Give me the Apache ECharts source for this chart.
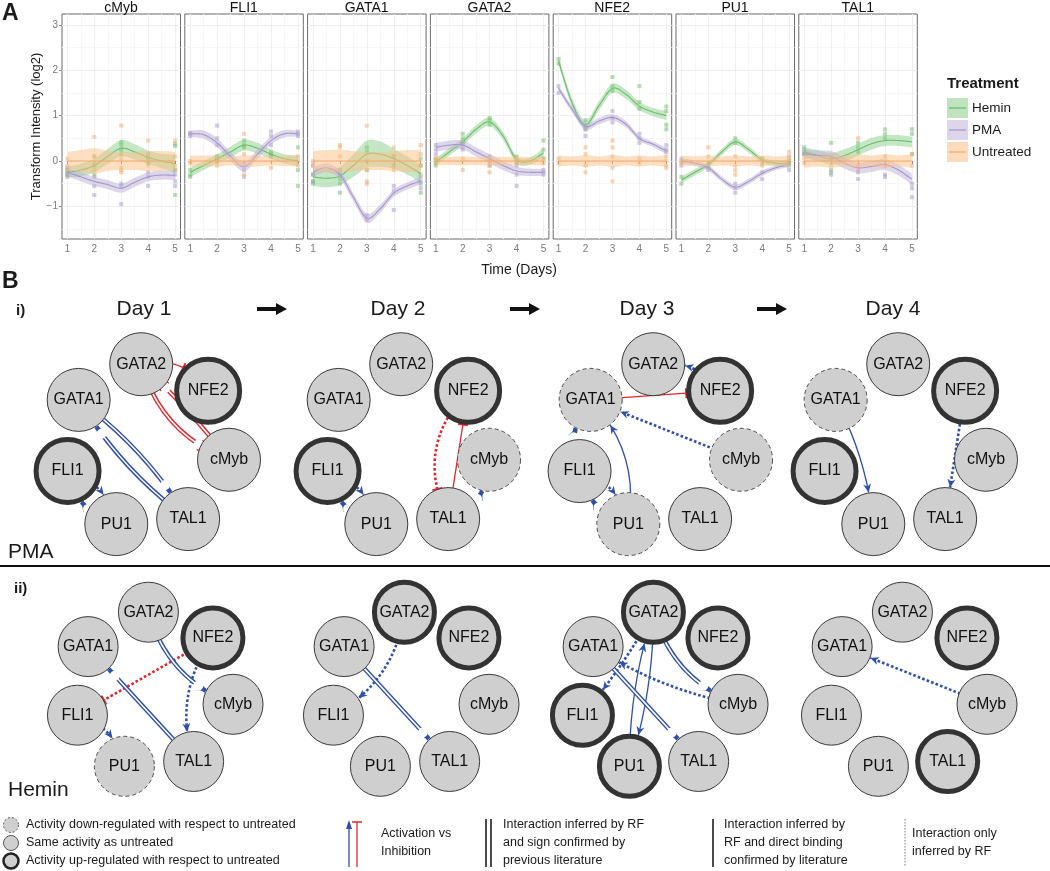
<!DOCTYPE html>
<html><head><meta charset="utf-8">
<script src="https://cdn.jsdelivr.net/npm/echarts@6/dist/echarts.min.js"></script>
<style>html,body{margin:0;padding:0;background:#fff}#c{width:1050px;height:871px}</style>
</head><body><div id="c"></div>
<script>
// ---------------- Panel A data ----------------
const genes = ['cMyb', 'FLI1', 'GATA1', 'GATA2', 'NFE2', 'PU1', 'TAL1'];
const treatments = ['Hemin', 'PMA', 'Untreated'];
const days = [1, 2, 3, 4, 5];
const fitX = [1, 1.5, 2, 2.5, 3, 3.5, 4, 4.5, 5];
const yTicks = [-1, 0, 1, 2, 3];

// smoothed fit per gene (rows follow genes, columns follow fitX)
const heminFit = [
  [-0.25, -0.2, -0.1, 0.1, 0.28, 0.2, 0.08, 0.0, -0.06],
  [-0.25, -0.1, 0.05, 0.2, 0.35, 0.28, 0.15, 0.05, 0.0],
  [-0.35, -0.38, -0.33, -0.1, 0.15, 0.15, 0.05, -0.1, -0.28],
  [-0.02, 0.2, 0.42, 0.7, 0.86, 0.55, 0.03, 0.0, 0.18],
  [2.2, 1.28, 0.8, 1.22, 1.6, 1.47, 1.21, 1.08, 1.0],
  [-0.42, -0.25, -0.08, 0.2, 0.42, 0.25, 0.02, -0.05, -0.05],
  [0.2, 0.12, 0.05, 0.12, 0.25, 0.38, 0.45, 0.45, 0.42]
];
const pmaFit = [
  [-0.25, -0.35, -0.45, -0.52, -0.6, -0.47, -0.35, -0.31, -0.32],
  [0.6, 0.58, 0.4, 0.1, -0.13, 0.15, 0.45, 0.6, 0.6],
  [-0.24, -0.15, -0.3, -0.8, -1.26, -1.05, -0.71, -0.55, -0.44],
  [0.3, 0.35, 0.35, 0.2, 0.05, -0.1, -0.22, -0.25, -0.25],
  [1.6, 1.14, 0.76, 0.88, 0.96, 0.81, 0.5, 0.37, 0.22],
  [0.0, -0.05, -0.15, -0.4, -0.58, -0.45, -0.27, -0.15, -0.08],
  [0.15, 0.12, 0.1, -0.05, -0.15, -0.12, -0.08, -0.2, -0.4]
];
const untreatedFit = [
  [0, 0, 0, 0, 0, 0, 0, 0, 0],
  [0, 0, 0, 0, 0, 0, 0, 0, 0],
  [0, 0, 0, 0, 0, 0, 0, 0, 0],
  [0, 0, 0, 0, 0, 0, 0, 0, 0],
  [0, 0, 0, 0, 0, 0, 0, 0, 0],
  [0, 0, 0, 0, 0, 0, 0, 0, 0],
  [0, 0, 0, 0, 0, 0, 0, 0, 0]
];
// half width of the confidence band
const heminBand = [
  [0.12, 0.14, 0.15, 0.17, 0.18, 0.17, 0.15, 0.16, 0.2],
  [0.1, 0.1, 0.1, 0.12, 0.12, 0.12, 0.1, 0.1, 0.12],
  [0.2, 0.2, 0.2, 0.25, 0.3, 0.28, 0.22, 0.2, 0.2],
  [0.08, 0.08, 0.08, 0.09, 0.09, 0.09, 0.08, 0.08, 0.1],
  [0.08, 0.1, 0.1, 0.1, 0.1, 0.1, 0.09, 0.09, 0.1],
  [0.07, 0.07, 0.06, 0.07, 0.07, 0.07, 0.06, 0.06, 0.07],
  [0.1, 0.12, 0.13, 0.14, 0.13, 0.13, 0.12, 0.12, 0.12]
];
const pmaBand = [
  [0.08, 0.1, 0.1, 0.1, 0.1, 0.1, 0.1, 0.1, 0.1],
  [0.07, 0.09, 0.1, 0.1, 0.1, 0.1, 0.09, 0.08, 0.07],
  [0.1, 0.1, 0.09, 0.09, 0.1, 0.09, 0.08, 0.08, 0.08],
  [0.1, 0.1, 0.1, 0.1, 0.1, 0.1, 0.09, 0.08, 0.08],
  [0.06, 0.07, 0.07, 0.07, 0.07, 0.07, 0.06, 0.06, 0.07],
  [0.06, 0.06, 0.06, 0.06, 0.06, 0.06, 0.06, 0.05, 0.06],
  [0.1, 0.11, 0.12, 0.12, 0.12, 0.12, 0.12, 0.12, 0.12]
];
const untreatedBand = [
  [0.2, 0.24, 0.28, 0.22, 0.2, 0.2, 0.22, 0.22, 0.2],
  [0.12, 0.12, 0.12, 0.1, 0.12, 0.12, 0.1, 0.11, 0.12],
  [0.22, 0.24, 0.25, 0.22, 0.2, 0.2, 0.22, 0.24, 0.24],
  [0.1, 0.09, 0.1, 0.09, 0.1, 0.09, 0.1, 0.09, 0.1],
  [0.12, 0.1, 0.13, 0.1, 0.13, 0.1, 0.12, 0.1, 0.13],
  [0.12, 0.1, 0.12, 0.1, 0.12, 0.1, 0.12, 0.1, 0.12],
  [0.15, 0.12, 0.15, 0.12, 0.15, 0.12, 0.15, 0.12, 0.15]
];
// replicate measurements: gene -> day -> values
const heminPts = [
  [[-0.3, -0.2, -0.25], [0.1, -0.1, -0.3], [0.42, 0.35, 0.25, 0.15], [0.15, 0.05, -0.05], [0.38, 0.33, -0.2, -0.75]],
  [[-0.2, -0.3, -0.35], [0.1, 0.05, 0.0], [0.45, 0.35, 0.3], [0.2, 0.1, 0.15], [0.3, -0.2, -0.55]],
  [[-0.3, -0.45, -0.5], [-0.4, -0.5, -0.7], [0.3, 0.2, 0.0, -0.2], [0.1, -0.1], [0.05, -0.1, -0.5, -0.7]],
  [[0.05, -0.05, -0.1], [0.6, 0.5, 0.4], [0.95, 0.9, 0.8], [0.1, 0.0, -0.05], [0.45, 0.25, 0.05]],
  [[2.25, 2.15], [0.9, 0.75, 0.7], [1.85, 1.65, 1.55], [1.65, 1.3, 1.15], [1.2, 1.1, 0.8, 0.7]],
  [[-0.35, -0.5], [-0.05, -0.1], [0.5, 0.4], [0.05, -0.05], [0.0, -0.1]],
  [[0.3, 0.2, 0.15], [0.4, -0.2, -0.3], [0.4, 0.3, 0.2], [0.7, 0.6, 0.5], [0.7, 0.6, 0.15]]
];
const pmaPts = [
  [[-0.15, -0.3, -0.35], [-0.35, -0.55, -0.75], [-0.5, -0.55, -0.95], [-0.25, -0.35, -0.55], [-0.3, -0.45, -0.55]],
  [[0.55, 0.6, 0.62], [0.78, 0.5, 0.35], [-0.05, -0.2, -0.35], [0.65, 0.55, 0.35], [0.65, 0.6, 0.55]],
  [[-0.1, -0.3, -0.45], [-0.2, -0.3], [-1.2, -1.3], [-0.55, -0.65, -1.08], [-0.35, -0.45, -0.6]],
  [[0.35, 0.25, 0.15], [0.4, 0.3, 0.25], [0.1, 0.0, -0.1], [-0.1, -0.3, -0.55], [-0.2, -0.25, -0.3]],
  [[1.65, 1.5], [0.8, 0.7, 0.55], [1.1, 0.95, 0.85], [0.6, 0.5, 0.4], [0.35, 0.25, 0.2]],
  [[0.05, -0.1], [-0.15, -0.2], [-0.5, -0.6, -0.7], [-0.25, -0.4], [0.1, -0.05, -0.2]],
  [[0.25, 0.15], [0.05, -0.25], [-0.25, -0.4], [-0.3, -0.35], [-0.5, -0.6, -0.8]]
];
const untreatedPts = [
  [[0.05, -0.1, -0.2], [0.53, 0.1, -0.1, -0.2], [0.78, 0.05, -0.15, -0.2, -0.25], [0.45, 0.05, -0.1], [0.45, 0.1, -0.1, -0.2]],
  [[0.0, -0.05], [0.0, -0.1], [0.6, 0.15, -0.3], [0.15, -0.15], [0.1, 0.0, -0.1]],
  [[0.0, -0.1], [0.35, 0.3, 0.1, -0.2], [0.78, -0.2, -0.45, -0.5], [0.3, 0.1, -0.1, -0.2], [0.35, 0.15, -0.1, -0.3]],
  [[0.0, 0.05], [0.05, -0.2], [0.05, -0.1, -0.25], [0.05, -0.02], [0.05, -0.05]],
  [[0.05, -0.05], [0.3, 0.15, -0.1, -0.25], [0.45, 0.3, 0.1, -0.15, -0.45], [0.05, -0.05], [0.1, 0.0, -0.1, -0.15]],
  [[0.0, -0.05], [0.3, 0.1], [0.1, -0.1, -0.2, -0.3], [0.05, -0.1], [0.2, 0.05, -0.05]],
  [[0.05, -0.05], [0.05, -0.1], [0.5, -0.1, -0.2], [0.1, -0.1], [0.15, -0.1]]
];

// ---------------- Panel B data ----------------
const netGenes = ['GATA2', 'NFE2', 'cMyb', 'TAL1', 'PU1', 'FLI1', 'GATA1'];
const netDays = ['Day 1', 'Day 2', 'Day 3', 'Day 4'];
// activity vs untreated: 1 up, 0 same, -1 down (order of netGenes)
const pmaActivity = [
  [0, 1, 0, 0, 0, 1, 0],
  [0, 1, -1, 0, 0, 1, 0],
  [0, 1, -1, 0, -1, 0, -1],
  [0, 1, 0, 0, 0, 1, -1]
];
const heminActivity = [
  [0, 1, 0, 0, -1, 0, 0],
  [1, 1, 0, 0, 0, 0, 0],
  [1, 1, 0, 0, 1, 1, 0],
  [0, 1, 0, 1, 0, 0, 0]
];
// [source, target, effect, evidence, curveness]
// evidence: lit = RF + sign from literature, bind = RF + direct binding, rf = RF only
const pmaEdges = [
  [['GATA2', 'NFE2', 'inh', 'bind', 0.35], ['GATA2', 'cMyb', 'inh', 'lit', -0.25], ['cMyb', 'GATA2', 'inh', 'lit', -0.04],
   ['GATA1', 'TAL1', 'act', 'lit', 0.1], ['TAL1', 'GATA1', 'act', 'lit', 0.1], ['FLI1', 'PU1', 'act', 'rf', 0.3], ['PU1', 'FLI1', 'act', 'lit', 0.3]],
  [['FLI1', 'PU1', 'act', 'rf', 0.3], ['PU1', 'FLI1', 'act', 'lit', 0.3], ['NFE2', 'TAL1', 'inh', 'rf', -0.35],
   ['TAL1', 'NFE2', 'inh', 'bind', 0], ['TAL1', 'cMyb', 'act', 'lit', -0.35]],
  [['NFE2', 'GATA2', 'act', 'rf', -0.3], ['GATA1', 'NFE2', 'inh', 'bind', 0], ['cMyb', 'GATA1', 'act', 'rf', 0],
   ['PU1', 'GATA1', 'act', 'bind', -0.25], ['FLI1', 'GATA1', 'act', 'lit', 0.3], ['FLI1', 'PU1', 'act', 'rf', 0.3], ['PU1', 'FLI1', 'act', 'lit', 0.3]],
  [['GATA1', 'PU1', 'act', 'bind', 0.1], ['NFE2', 'TAL1', 'act', 'rf', 0]]
];
const heminEdges = [
  [['NFE2', 'FLI1', 'inh', 'rf', 0], ['TAL1', 'GATA1', 'act', 'lit', 0], ['GATA2', 'cMyb', 'act', 'lit', -0.25],
   ['NFE2', 'TAL1', 'act', 'rf', -0.25], ['FLI1', 'PU1', 'act', 'rf', 0.3]],
  [['GATA2', 'FLI1', 'act', 'rf', 0.25], ['GATA1', 'TAL1', 'act', 'lit', 0]],
  [['GATA2', 'FLI1', 'act', 'rf', 0.05], ['cMyb', 'GATA1', 'act', 'rf', 0.1], ['GATA2', 'cMyb', 'act', 'lit', -0.25],
   ['GATA1', 'TAL1', 'act', 'lit', 0], ['PU1', 'GATA2', 'act', 'bind', 0.08], ['GATA2', 'PU1', 'act', 'bind', 0.08]],
  [['cMyb', 'GATA1', 'act', 'rf', 0]]
];

// ---------------- styling / layout ----------------
const FONT = '"Liberation Sans", Arial, Helvetica, sans-serif';
const lineColors = ['#6bbd6b', '#a596ce', '#f4aa6c'];
const fillColors = ['rgba(127,201,127,0.45)', 'rgba(190,174,212,0.5)', 'rgba(253,192,134,0.5)'];
const keyColors = ['#bfe3bf', '#ddd5ea', '#fddcbd'];
const BLUE = '#2f4fae', RED = '#e3262b', NODE_FILL = '#cfcfcf';
const ARROW = 'path://M9.9,0 L10.1,0 L10.1,10 L9.9,10 Z M10,10 L17,20 L10,17 L3,20 Z';
const TBAR = 'path://M0,9 L20,9 L20,11 L0,11 Z M9.9,0 L10.1,0 L10.1,20 L9.9,20 Z';

const fits = [heminFit, pmaFit, untreatedFit];
const bands = [heminBand, pmaBand, untreatedBand];
const pts = [heminPts, pmaPts, untreatedPts];

const grid = [], xAxis = [], yAxis = [], series = [], graphic = [];
const polar = [], angleAxis = [], radiusAxis = [];

// cubic (Catmull-Rom style) sampling of pixel points, for drawing only
function spline(P) {
  const out = [], n = P.length, t = 1 / 6, steps = 10;
  for (let i = 0; i < n - 1; i++) {
    const p0 = P[Math.max(i - 1, 0)], p1 = P[i], p2 = P[i + 1], p3 = P[Math.min(i + 2, n - 1)];
    const c1 = [p1[0] + (p2[0] - p0[0]) * t, p1[1] + (p2[1] - p0[1]) * t];
    const c2 = [p2[0] - (p3[0] - p1[0]) * t, p2[1] - (p3[1] - p1[1]) * t];
    for (let s = 0; s < steps; s++) {
      const u = s / steps, v = 1 - u;
      out.push([
        v * v * v * p1[0] + 3 * v * v * u * c1[0] + 3 * v * u * u * c2[0] + u * u * u * p2[0],
        v * v * v * p1[1] + 3 * v * v * u * c1[1] + 3 * v * u * u * c2[1] + u * u * u * p2[1]
      ]);
    }
  }
  out.push(P[n - 1]);
  return out;
}
function smoothRenderer(rows, lineColor, fillColor) {
  return function (params, api) {
    if (params.dataIndex !== 0) return null;
    const up = spline(rows.map(r => api.coord([r[0], r[2]])));
    const lo = spline(rows.map(r => api.coord([r[0], r[1]])));
    const mid = spline(rows.map(r => api.coord([r[0], r[3]])));
    return {type: 'group', children: [
      {type: 'polygon', shape: {points: up.concat(lo.reverse())}, style: {fill: fillColor, stroke: null}},
      {type: 'polyline', shape: {points: mid}, style: {fill: null, stroke: lineColor, lineWidth: 1.1}}
    ]};
  };
}

genes.forEach((g, gi) => {
  const left = 62 + gi * 122.8;
  grid.push({left: left, top: 14, width: 118.5, height: 225, show: true,
    borderColor: '#6b6b6b', borderWidth: 1, backgroundColor: '#fff'});
  xAxis.push({gridIndex: gi, type: 'value', min: 0.8, max: 5.2,
    axisLine: {show: false},
    axisTick: {show: true, length: 3, customValues: days, lineStyle: {color: '#888'}},
    axisLabel: {customValues: days, color: '#7a7a7a', fontSize: 10, margin: 5},
    splitLine: {show: true, lineStyle: {color: '#efefef'}},
    minorTick: {show: false, splitNumber: 2},
    minorSplitLine: {show: true, lineStyle: {color: '#f7f7f7'}}});
  yAxis.push({gridIndex: gi, type: 'value', min: -1.72, max: 3.24,
    axisLine: {show: false},
    axisTick: {show: gi === 0, length: 3, customValues: yTicks, lineStyle: {color: '#888'}},
    axisLabel: {show: gi === 0, customValues: yTicks, color: '#7a7a7a', fontSize: 10, margin: 4,
      formatter: v => (v < 0 ? '\u2212' + Math.abs(v) : String(v))},
    splitLine: {show: true, lineStyle: {color: '#efefef'}},
    minorTick: {show: false, splitNumber: 2},
    minorSplitLine: {show: true, lineStyle: {color: '#f7f7f7'}},
    name: gi === 0 ? 'Transform Intensity (log2)' : '', nameLocation: 'middle', nameGap: 18,
    nameTextStyle: {fontSize: 13, color: '#1a1a1a'}});
  graphic.push({type: 'text', x: left + 59, y: 8, silent: true,
    style: {text: g, font: '14px ' + FONT, fill: '#111', align: 'center', verticalAlign: 'middle'}});

  treatments.forEach((t, ti) => {
    const fit = fits[ti][gi], band = bands[ti][gi];
    const scatter = [];
    pts[ti][gi].forEach((vals, di) => vals.forEach(v => scatter.push([days[di], v])));
    series.push({type: 'scatter', name: t, xAxisIndex: gi, yAxisIndex: gi, data: scatter,
      symbol: 'rect', symbolSize: 4, itemStyle: {color: lineColors[ti], opacity: 0.5}, z: 1, silent: true});
    const rows = fitX.map((x, k) => [x, fit[k] - band[k], fit[k] + band[k], fit[k]]);
    series.push({type: 'custom', name: t, xAxisIndex: gi, yAxisIndex: gi, data: rows,
      encode: {x: 0, y: [1, 2, 3]}, renderItem: smoothRenderer(rows, lineColors[ti], fillColors[ti]),
      z: 2, silent: true});
  });
});

// ---------------- networks ----------------
function edgeLink(e) {
  const [s, t, eff, ev, cv] = e;
  const ls = {color: eff === 'act' ? BLUE : RED, curveness: cv, opacity: 1};
  let size;
  if (ev === 'lit') { ls.width = 4.4; size = eff === 'act' ? [10, 18] : [12, 20]; }
  else if (ev === 'bind') { ls.width = 1.3; size = eff === 'act' ? [8, 17] : [10, 20]; }
  else { ls.width = 2.6; ls.type = [2.6, 2.2]; size = eff === 'act' ? [8, 17] : [10, 20]; }
  return {source: s, target: t, lineStyle: ls,
    symbol: ['none', eff === 'act' ? ARROW : TBAR], symbolSize: [0, size]};
}
function overlayLink(e) {
  return {source: e[0], target: e[1], lineStyle: {color: '#ffffff', width: 1.6, curveness: e[4], opacity: 1},
    symbol: ['none', 'circle'], symbolSize: [0, 0]};
}
function addNetwork(pi, activity, edges, cx, cy, R, size) {
  polar.push({center: [cx, cy], radius: R});
  angleAxis.push({polarIndex: pi, type: 'category', data: netGenes, startAngle: 94, clockwise: true,
    boundaryGap: false, show: false});
  radiusAxis.push({polarIndex: pi, type: 'value', min: 0, max: 1, show: false});
  const outer = activity.map(a => size + (a === 1 ? 5 : 1));
  const hidden = extra => netGenes.map((g, i) => ({name: g, value: [1, i], symbolSize: outer[i] + extra}));
  const base = {type: 'graph', coordinateSystem: 'polar', polarIndex: pi, silent: true,
    emphasis: {disabled: true}, label: {show: false}, itemStyle: {opacity: 0}, lineStyle: {opacity: 1}};
  series.push(Object.assign({}, base, {z: 5, data: hidden(0), links: edges.map(edgeLink)}));
  const litAct = edges.filter(e => e[3] === 'lit' && e[2] === 'act');
  const litInh = edges.filter(e => e[3] === 'lit' && e[2] === 'inh');
  if (litAct.length) series.push(Object.assign({}, base, {z: 6, data: hidden(18), links: litAct.map(overlayLink)}));
  if (litInh.length) series.push(Object.assign({}, base, {z: 6, data: hidden(4), links: litInh.map(overlayLink)}));
  series.push({type: 'graph', coordinateSystem: 'polar', polarIndex: pi, silent: true, z: 7,
    emphasis: {disabled: true},
    label: {show: true, position: 'inside', fontSize: 16, color: '#111', fontFamily: FONT},
    data: netGenes.map((g, i) => {
      const a = activity[i];
      let st;
      if (a === 1) st = {color: NODE_FILL, borderColor: '#333', borderWidth: 5};
      else if (a === -1) st = {color: NODE_FILL, borderColor: '#4a4a4a', borderWidth: 1, borderType: [4, 3]};
      else st = {color: NODE_FILL, borderColor: '#3a3a3a', borderWidth: 1};
      return {name: g, value: [1, i], symbolSize: size, itemStyle: st};
    }),
    links: []});
}
const pmaCX = [147, 407, 659, 904], heminCX = [154, 410, 659, 908];
netDays.forEach((d, k) => addNetwork(k, pmaActivity[k], pmaEdges[k], pmaCX[k], 447, 83, 63));
netDays.forEach((d, k) => addNetwork(4 + k, heminActivity[k], heminEdges[k], heminCX[k], 692, 80, 60));

// ---------------- annotations ----------------
function txt(x, y, text, size, bold, align) {
  return {type: 'text', x: x, y: y, silent: true, z: 20,
    style: {text: text, font: (bold ? 'bold ' : '') + size + 'px ' + FONT, fill: '#1a1a1a',
      align: align || 'left', verticalAlign: 'middle'}};
}
graphic.push(txt(2, 14, 'A', 23, true));
graphic.push(txt(519, 270, 'Time (Days)', 14, false, 'center'));
// treatment legend
graphic.push(txt(947, 84, 'Treatment', 15, true));
treatments.forEach((t, ti) => {
  const yc = 108 + ti * 22;
  graphic.push({type: 'rect', silent: true, shape: {x: 947, y: yc - 10, width: 21, height: 20},
    style: {fill: keyColors[ti]}});
  graphic.push({type: 'line', silent: true, shape: {x1: 949, y1: yc, x2: 966, y2: yc},
    style: {stroke: lineColors[ti], lineWidth: 1.2}});
  graphic.push(txt(972, yc, t, 13.5));
});
// panel B texts
graphic.push(txt(2, 282, 'B', 23, true));
graphic.push(txt(16, 311, 'i)', 15, true));
graphic.push(txt(14, 589, 'ii)', 15, true));
const dayX = [144, 398, 647, 893];
netDays.forEach((d, k) => graphic.push(txt(dayX[k], 309, d, 21, false, 'center')));
[257, 510, 757].forEach(x0 => {
  graphic.push({type: 'polygon', silent: true,
    shape: {points: [[x0, 307], [x0 + 19, 307], [x0 + 19, 303], [x0 + 30, 309], [x0 + 19, 315], [x0 + 19, 311], [x0, 311]]},
    style: {fill: '#111'}});
});
graphic.push(txt(8, 552, 'PMA', 21));
graphic.push(txt(8, 790, 'Hemin', 21));
graphic.push({type: 'line', silent: true, shape: {x1: 0, y1: 566, x2: 1050, y2: 566}, style: {stroke: '#111', lineWidth: 2}});
// bottom legend
const legRows = [825, 843, 861];
graphic.push({type: 'circle', silent: true, shape: {cx: 11, cy: legRows[0], r: 7.5},
  style: {fill: NODE_FILL, stroke: '#555', lineWidth: 1, lineDash: [2, 2]}});
graphic.push({type: 'circle', silent: true, shape: {cx: 11, cy: legRows[1], r: 7.5},
  style: {fill: NODE_FILL, stroke: '#555', lineWidth: 1}});
graphic.push({type: 'circle', silent: true, shape: {cx: 11, cy: legRows[2], r: 7.5},
  style: {fill: NODE_FILL, stroke: '#222', lineWidth: 2.5}});
graphic.push(txt(26, legRows[0], 'Activity down-regulated with respect to untreated', 12.5));
graphic.push(txt(26, legRows[1], 'Same activity as untreated', 12.5));
graphic.push(txt(26, legRows[2], 'Activity up-regulated with respect to untreated', 12.5));
graphic.push({type: 'line', silent: true, shape: {x1: 349, y1: 867, x2: 349, y2: 826}, style: {stroke: BLUE, lineWidth: 1.3}});
graphic.push({type: 'polygon', silent: true, shape: {points: [[346, 829], [349, 820], [352, 829]]}, style: {fill: BLUE}});
graphic.push({type: 'line', silent: true, shape: {x1: 357, y1: 867, x2: 357, y2: 822}, style: {stroke: RED, lineWidth: 1.3}});
graphic.push({type: 'line', silent: true, shape: {x1: 352, y1: 822, x2: 362, y2: 822}, style: {stroke: RED, lineWidth: 1.5}});
graphic.push(txt(381, 834, 'Activation vs', 12.5));
graphic.push(txt(381, 852, 'Inhibition', 12.5));
graphic.push({type: 'line', silent: true, shape: {x1: 486, y1: 819, x2: 486, y2: 867}, style: {stroke: '#111', lineWidth: 1.5}});
graphic.push({type: 'line', silent: true, shape: {x1: 491, y1: 819, x2: 491, y2: 867}, style: {stroke: '#111', lineWidth: 1.5}});
graphic.push(txt(503, legRows[0], 'Interaction inferred by RF', 12.5));
graphic.push(txt(503, legRows[1], 'and sign confirmed by', 12.5));
graphic.push(txt(503, legRows[2], 'previous literature', 12.5));
graphic.push({type: 'line', silent: true, shape: {x1: 713, y1: 819, x2: 713, y2: 867}, style: {stroke: '#111', lineWidth: 1.5}});
graphic.push(txt(724, legRows[0], 'Interaction inferred by', 12.5));
graphic.push(txt(724, legRows[1], 'RF and direct binding', 12.5));
graphic.push(txt(724, legRows[2], 'confirmed by literature', 12.5));
graphic.push({type: 'line', silent: true, shape: {x1: 905, y1: 819, x2: 905, y2: 867}, style: {stroke: '#777', lineWidth: 1, lineDash: [1.5, 1.5]}});
graphic.push(txt(912, 834, 'Interaction only', 12.5));
graphic.push(txt(912, 852, 'inferred by RF', 12.5));

const chart = echarts.init(document.getElementById('c'), null, {renderer: 'canvas'});
chart.setOption({
  animation: false,
  backgroundColor: '#ffffff',
  textStyle: {fontFamily: FONT},
  grid: grid, xAxis: xAxis, yAxis: yAxis,
  polar: polar, angleAxis: angleAxis, radiusAxis: radiusAxis,
  series: series,
  graphic: graphic
});
</script>
</body></html>
